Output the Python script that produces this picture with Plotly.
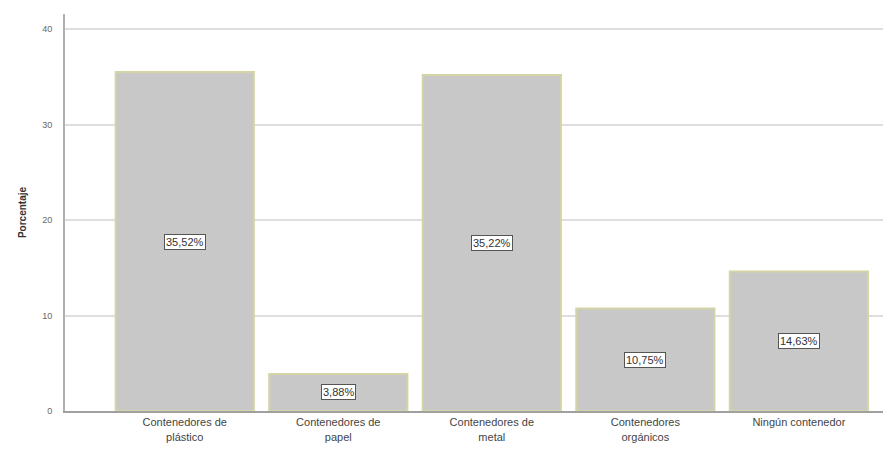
import plotly.graph_objects as go

categories = ["Contenedores de<br>plástico", "Contenedores de<br>papel", "Contenedores de<br>metal",
              "Contenedores<br>orgánicos", "Ningún contenedor"]
values = [35.52, 3.88, 35.22, 10.75, 14.63]
labels = ["35,52%", "3,88%", "35,22%", "10,75%", "14,63%"]
y_ticks = [0, 10, 20, 30, 40]

xs = list(range(len(categories)))

fig = go.Figure()
fig.add_trace(go.Bar(
    x=xs, y=values,
    marker=dict(color="#c8c8c8", line=dict(color="#d4d4a4", width=2)),
    width=0.9,
    hoverinfo="skip",
))

for x, v, t in zip(xs, values, labels):
    fig.add_annotation(x=x, y=v / 2, text=t, showarrow=False,
                       font=dict(family="Liberation Sans, Arial", size=11, color="#333333"),
                       bgcolor="white", bordercolor="#555555", borderwidth=1, borderpad=1)

fig.update_layout(
    width=883, height=441,
    margin=dict(l=57, r=0, t=6, b=38, autoexpand=False),
    paper_bgcolor="white", plot_bgcolor="white",
    showlegend=False,
    font=dict(family="Liberation Sans, Arial", color="#444444"),
    xaxis=dict(
        range=[-0.78, 4.6],
        tickmode="array", tickvals=xs, ticktext=categories,
        tickfont=dict(size=11, color="#444444"),
        showline=True, linecolor="#a0a0a0", linewidth=2,
        showgrid=False, zeroline=False, ticks="", automargin=False,
    ),
    yaxis=dict(
        range=[0, 41.6],
        tickmode="array", tickvals=y_ticks,
        tickfont=dict(size=9, color="#666666"),
        showline=True, linecolor="#b0b0b0", linewidth=2,
        showgrid=True, gridcolor="#dedede", gridwidth=1.5,
        zeroline=False, ticks="outside", ticklen=9, tickcolor="rgba(0,0,0,0)",
        automargin=False,
        title=dict(text="<b>Porcentaje</b>", font=dict(size=10, color="#333333"), standoff=14),
    ),
)

fig.write_html("out.html")
